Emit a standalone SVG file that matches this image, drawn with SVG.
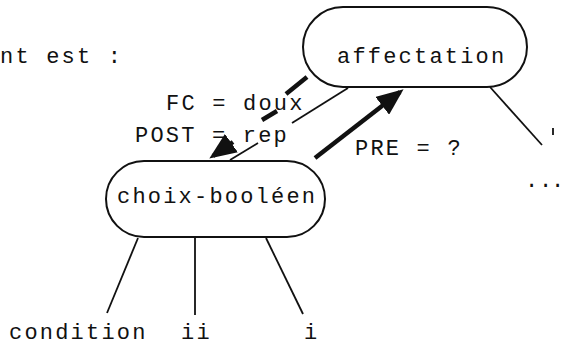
<svg xmlns="http://www.w3.org/2000/svg" width="565" height="346" viewBox="0 0 565 346">
<style>
text{font-family:"Liberation Mono","DejaVu Sans Mono",monospace;font-size:22px;letter-spacing:2.2px;fill:#111}
.node{fill:#fff;stroke:#111;stroke-width:2}
.thin{stroke:#111;stroke-width:1.8;fill:none}
.thick{stroke:#111;stroke-width:4.5;fill:none}
</style>
<defs>
<marker id="ah" markerWidth="6" markerHeight="5" refX="5" refY="2.5" orient="auto" markerUnits="strokeWidth">
<path d="M0,0 L6,2.5 L0,5 Z" fill="#111"/>
</marker>
</defs>
<rect width="565" height="346" fill="#fff"/>
<text x="0" y="63">nt est :</text>
<g id="connectors">
<line class="thin" x1="348" y1="88" x2="292" y2="123"/>
<line class="thin" x1="258" y1="143" x2="230" y2="160"/>
<line class="thin" x1="490" y1="87" x2="542" y2="145"/>
<line class="thin" x1="553" y1="128" x2="553" y2="135"/>
<line class="thin" x1="138" y1="238" x2="107" y2="313"/>
<line class="thin" x1="195" y1="238" x2="195" y2="315"/>
<line class="thin" x1="266" y1="238" x2="303" y2="314"/>
<line class="thick" x1="307" y1="77" x2="286" y2="94"/>
<line class="thick" x1="277" y1="111" x2="262" y2="120"/>
<line class="thick" x1="233" y1="142" x2="213" y2="156" marker-end="url(#ah)"/>
<line class="thick" x1="315" y1="158" x2="400" y2="92" marker-end="url(#ah)"/>
</g>
<g id="labels">
<text x="166" y="110">FC = doux</text>
<text x="135" y="142">POST = rep</text>
<text x="355" y="155">PRE = ?</text>
<text x="525 539 551" y="187" style="letter-spacing:0">...</text>
</g>
<g id="affectation">
<rect class="node" x="303" y="7" width="224" height="80" rx="40"/>
<text x="337" y="63">affectation</text>
</g>
<g id="choix-booleen">
<rect class="node" x="106" y="161" width="219" height="76" rx="38"/>
<text x="117" y="203">choix-booléen</text>
</g>
<g id="condition"><text x="9" y="339">condition</text></g>
<g id="ii"><text x="181" y="339">ii</text></g>
<g id="i"><text x="304" y="339">i</text></g>
</svg>
